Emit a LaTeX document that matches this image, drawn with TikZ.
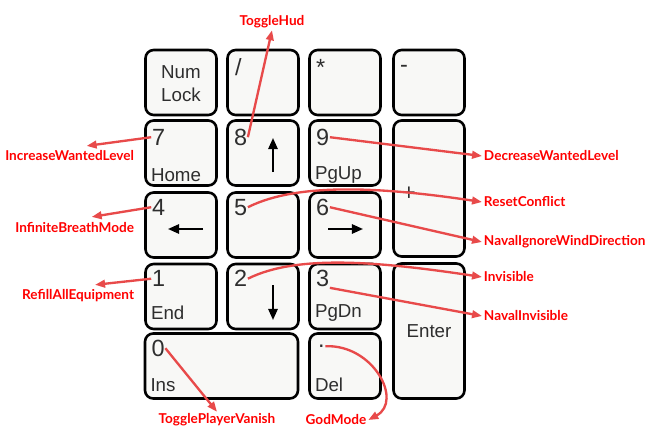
\documentclass[tikz,border=0pt]{standalone}
\usepackage{fontspec}
\usepackage{xcolor}
\usepackage{tikz}
\usetikzlibrary{arrows.meta}
\newfontfamily\keyfont{Liberation Sans}
\newfontfamily\lblfont{Lato}
\definecolor{keyfill}{HTML}{F8F8F6}
\definecolor{keytext}{HTML}{2E2E2E}
\definecolor{lblred}{HTML}{FF0000}
\definecolor{linered}{HTML}{E84A4A}

\begin{document}
\begin{tikzpicture}[x=0.03cm, y=-0.03cm,
            key/.style={draw=black, line width=2.2pt, rounded corners=7pt, fill=keyfill, inner sep=0pt, minimum width=2.13cm, minimum height=1.95cm},
            digit/.style={font=\keyfont\fontsize{20}{20}\selectfont, text=keytext, inner sep=0.5pt, anchor=west},
            word/.style={font=\keyfont\fontsize{16}{16}\selectfont, text=keytext, inner sep=0.5pt, anchor=west},
            keyarrow/.style={line width=1.7pt, -{Triangle[length=9.5pt, width=8pt]}},
            lbl/.style={font=\lblfont\bfseries\fontsize{11.6}{11.6}\selectfont, text=lblred, inner sep=1.5pt},
            link/.style={draw=linered, line width=2pt, -{Triangle[length=8.5pt, width=6.5pt]}}]
            \useasboundingbox (0,0) rectangle (658,443);
            \fill[white] (0,0) rectangle (658,443);

            \node[key] (knum) at (181, 82.5) {};
            \node[key] (kdiv) at (263, 82.5) {};
            \node[key] (kmul) at (345, 82.5) {};
            \node[key] (ksub) at (429, 82.5) {};
            \node[key] (k7) at (181, 153) {};
            \node[key] (k8) at (263, 153) {};
            \node[key] (k9) at (345, 153) {};
            \node[key, minimum height=4.08cm] (kadd) at (429, 188.5) {};
            \node[key] (k4) at (181, 225) {};
            \node[key] (k5) at (263, 225) {};
            \node[key] (k6) at (345, 225) {};
            \node[key] (k1) at (181, 296.5) {};
            \node[key] (k2) at (263, 296.5) {};
            \node[key] (k3) at (345, 296.5) {};
            \node[key, minimum height=4.05cm] (kent) at (429, 331) {};
            \node[key, minimum width=4.59cm] (k0) at (221.5, 366) {};
            \node[key] (kdel) at (345, 366) {};

            \node[font=\keyfont\fontsize{16}{19.5}\selectfont, text=keytext, align=center] (tnum) at ([shift={(0,1)}]knum.center) {Num\\Lock};
            \node[digit] (tdiv) at ([shift={(8,18)}]kdiv.north west) {/};
            \node[digit] (tmul) at ([shift={(7,19)}]kmul.north west) {*};
            \node[digit] (tsub) at ([shift={(7,20)}]ksub.north west) {-};
            \node[digit] (tadd) at ([shift={(9,75)}]kadd.north west) {+};
            \node[word, anchor=center] (tent) at (kent.center) {Enter};

            \node[digit] (d7) at ([shift={(7,18)}]k7.north west) {7};
            \node[word] (w7) at ([shift={(6,-12)}]k7.south west) {Home};
            \node[digit] (d8) at ([shift={(7,18)}]k8.north west) {8};
            \node[digit] (d9) at ([shift={(7,18)}]k9.north west) {9};
            \node[word] (w9) at ([shift={(6,-12)}]k9.south west) {PgUp};
            \node[digit] (d4) at ([shift={(7,16)}]k4.north west) {4};
            \node[digit] (d5) at ([shift={(7,16)}]k5.north west) {5};
            \node[digit] (d6) at ([shift={(7,16)}]k6.north west) {6};
            \node[digit] (d1) at ([shift={(7,16)}]k1.north west) {1};
            \node[word] (w1) at ([shift={(6,-17)}]k1.south west) {End};
            \node[digit] (d2) at ([shift={(7,16)}]k2.north west) {2};
            \node[digit] (d3) at ([shift={(7,16)}]k3.north west) {3};
            \node[word] (w3) at ([shift={(6,-17)}]k3.south west) {PgDn};
            \node[digit] (d0) at ([shift={(7,16)}]k0.north west) {0};
            \node[word] (w0) at ([shift={(6,-15)}]k0.south west) {Ins};
            \node[digit] (ddot) at ([shift={(9,14)}]kdel.north west) {.};
            \node[word] (wdel) at ([shift={(6,-15)}]kdel.south west) {Del};

            \draw[keyarrow] ([shift={(10,19)}]k8.center) -- ([shift={(10,-15)}]k8.center);
            \draw[keyarrow] ([shift={(22,4)}]k4.center) -- ([shift={(-13,4)}]k4.center);
            \draw[keyarrow] ([shift={(-17,4)}]k6.center) -- ([shift={(18,4)}]k6.center);
            \draw[keyarrow] ([shift={(10,-11.5)}]k2.center) -- ([shift={(10,23.5)}]k2.center);

            \node[lbl] (hud) at (272, 22) {ToggleHud};
            \node[lbl, anchor=east] (incwl) at (136, 156) {IncreaseWantedLevel};
            \node[lbl, anchor=east] (breath) at (136, 227) {InfiniteBreathMode};
            \node[lbl, anchor=east] (refill) at (136, 296) {RefillAllEquipment};
            \node[lbl, anchor=west] (decwl) at (482, 156) {DecreaseWantedLevel};
            \node[lbl, anchor=west] (reset) at (482, 202) {ResetConflict};
            \node[lbl, anchor=west] (wind) at (482, 242) {NavalIgnoreWindDirection};
            \node[lbl, anchor=west] (invis) at (482, 277) {Invisible};
            \node[lbl, anchor=west] (navinv) at (482, 316) {NavalInvisible};
            \node[lbl] (vanish) at (217, 420) {TogglePlayerVanish};
            \node[lbl] (god) at (336, 420) {GodMode};

            \draw[link] (d8.east) -- (hud.south);
            \draw[link] (d7.west) -- ([shift={(17,-3)}]incwl.north);
            \draw[link] (d4.west) -- ([shift={(17,-3)}]breath.north);
            \draw[link] (d1.west) -- ([shift={(17,-3)}]refill.north);
            \draw[link] (d9.east) -- (decwl.west);
            \draw[link] (d5.east) .. controls +(50,-25) and +(-100,-15) .. (reset.west);
            \draw[link] (d6.east) -- (wind.west);
            \draw[link] (d2.east) .. controls +(50,-25) and +(-100,-15) .. (invis.west);
            \draw[link] (d3.south east) -- (navinv.west);
            \draw[link] (d0.east) -- (vanish.north);
            \draw[link] (ddot.east) .. controls +(48,-2) and +(35,-19) .. (god.east);
        \end{tikzpicture}
\end{document}
